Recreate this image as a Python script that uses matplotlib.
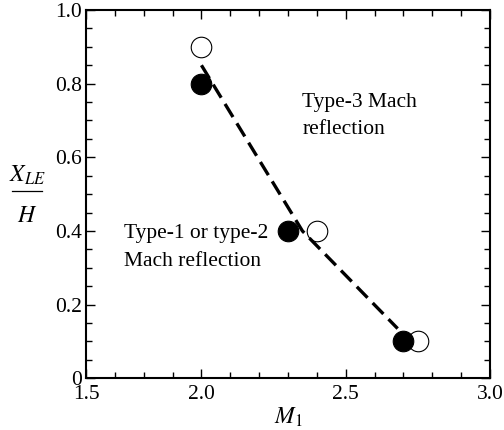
import matplotlib
matplotlib.use("Agg")
import matplotlib.pyplot as plt
from matplotlib.lines import Line2D
from matplotlib.ticker import MultipleLocator

plt.rcParams["font.family"] = ["Liberation Serif", "DejaVu Serif"]
plt.rcParams["mathtext.fontset"] = "stix"

# Measured transition points (filled) and type-3 observations (open)
m1_filled = [2.0, 2.3, 2.7]
xle_filled = [0.8, 0.4, 0.1]
m1_open = [2.0, 2.4, 2.75]
xle_open = [0.9, 0.4, 0.1]

# Boundary between reflection regimes
m1_boundary = [2.0, 2.35, 2.68]
xle_boundary = [0.85, 0.40, 0.135]

x_ticks = [1.6, 2.0, 2.5, 3.0]
x_tick_labels = ["1.5", "2.0", "2.5", "3.0"]
y_ticks = [0.0, 0.2, 0.4, 0.6, 0.8, 1.0]
y_tick_labels = ["0", "0.2", "0.4", "0.6", "0.8", "1.0"]

W, H = 504, 430
fig = plt.figure(figsize=(W / 100, H / 100), dpi=100)
ax = fig.add_axes([86 / W, 1 - 378.3 / H, 404 / W, 368.3 / H])

ax.plot(m1_open, xle_open, linestyle="none", marker="o", markersize=14.8,
        markerfacecolor="white", markeredgecolor="black", markeredgewidth=0.8,
        zorder=2)
ax.plot(m1_filled, xle_filled, linestyle="none", marker="o", markersize=14.8,
        markerfacecolor="black", markeredgecolor="black", markeredgewidth=0.8,
        zorder=3)
line, = ax.plot(m1_boundary, xle_boundary, color="black", linewidth=2.4,
                zorder=4)
line.set_dashes((4.6, 2.2))

ax.set_xlim(1.6, 3.0)
ax.set_ylim(0.0, 1.0)
ax.set_xticks(x_ticks)
ax.set_xticklabels(x_tick_labels)
ax.set_yticks(y_ticks)
ax.set_yticklabels(y_tick_labels)
ax.xaxis.set_minor_locator(MultipleLocator(0.1))
ax.yaxis.set_minor_locator(MultipleLocator(0.05))

ax.tick_params(which="both", direction="in", top=True, right=True,
               labelsize=15.5, width=1.0)
ax.tick_params(which="major", length=6.5)
ax.tick_params(which="minor", length=4.0)
ax.tick_params(axis="x", which="major", pad=5)
ax.tick_params(axis="y", which="major", pad=3)
for sp in ax.spines.values():
    sp.set_linewidth(1.5)

ax.set_xlabel(r"$M_1$", fontsize=17, labelpad=1)

# Stacked fraction label for the vertical axis
fig.text(27 / W, 1 - 182 / H, r"$X_{LE}$", fontsize=17,
         ha="center", va="baseline")
fig.text(27 / W, 1 - 222 / H, r"$H$", fontsize=17,
         ha="center", va="baseline")
fig.add_artist(Line2D([12 / W, 42 / W], [1 - 191 / H, 1 - 191 / H],
                      color="black", linewidth=0.9,
                      transform=fig.transFigure))

ax.text(2.35, 0.712, "Type-3 Mach\nreflection", fontsize=15.5,
        ha="left", va="center", linespacing=1.6)
ax.text(1.731, 0.355, "Type-1 or type-2\nMach reflection", fontsize=15.5,
        ha="left", va="center", linespacing=1.6)

fig.savefig("out.png", dpi=100)
